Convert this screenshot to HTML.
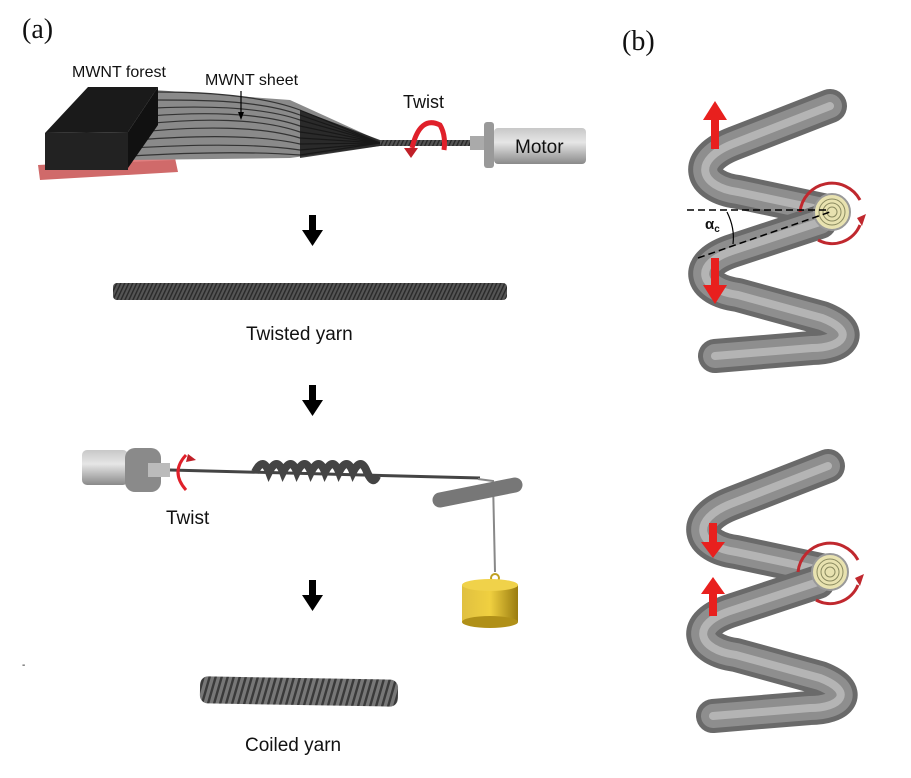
<!DOCTYPE html>
<html><head><meta charset="utf-8"><style>
html,body{margin:0;padding:0;background:#fff;}
svg{display:block;}
text{font-family:"Liberation Sans",sans-serif;fill:#111;}
</style></head><body>
<svg width="911" height="778" viewBox="0 0 911 778" xmlns="http://www.w3.org/2000/svg">
<defs>
<linearGradient id="cyl" x1="0" y1="0" x2="0" y2="1">
<stop offset="0" stop-color="#c8c8c8"/><stop offset="0.4" stop-color="#e6e6e6"/><stop offset="1" stop-color="#8a8a8a"/></linearGradient>
<linearGradient id="gold" x1="0" y1="0" x2="1" y2="0">
<stop offset="0" stop-color="#e0c040"/><stop offset="0.5" stop-color="#f0d040"/><stop offset="1" stop-color="#9a7c10"/></linearGradient>
<pattern id="tw" width="4" height="20" patternUnits="userSpaceOnUse" patternTransform="skewX(-25)">
<rect width="4" height="20" fill="#555"/><rect width="1.6" height="20" fill="#2a2a2a"/></pattern>
<pattern id="cw" width="6" height="30" patternUnits="userSpaceOnUse" patternTransform="skewX(-15)">
<rect width="6" height="30" fill="#777"/><rect width="2.5" height="30" fill="#3a3a3a"/></pattern>
<g id="spring">
<g fill="none" stroke-linecap="round" stroke-linejoin="round">
<path d="M830 106 L735 143 C690 160 700 187 738 192 L832 212" stroke="#6a6a6a" stroke-width="34"/>
<path d="M830 106 L735 143 C690 160 700 187 738 192 L832 212" stroke="#8e8e8e" stroke-width="24"/>
<path d="M830 106 L735 143 C690 160 700 187 738 192 L832 212" stroke="#b4b4b4" stroke-width="8"/>
<path d="M820 222 L735 250 C690 264 700 290 738 295 L822 318 C858 332 842 348 812 348 L715 356" stroke="#6a6a6a" stroke-width="34"/>
<path d="M820 222 L735 250 C690 264 700 290 738 295 L822 318 C858 332 842 348 812 348 L715 356" stroke="#8e8e8e" stroke-width="24"/>
<path d="M820 222 L735 250 C690 264 700 290 738 295 L822 318 C858 332 842 348 812 348 L715 356" stroke="#b4b4b4" stroke-width="8"/>
</g>
<circle cx="832" cy="212" r="18" fill="#e8e2b0" stroke="#999" stroke-width="2"/>
<circle cx="832" cy="212" r="13" fill="none" stroke="#8a8a60" stroke-width="1"/>
<circle cx="832" cy="212" r="9" fill="none" stroke="#8a8a60" stroke-width="1"/>
<circle cx="832" cy="212" r="5" fill="none" stroke="#8a8a60" stroke-width="1"/>
<path d="M800 212 A32 32 0 0 1 860 200" fill="none" stroke="#c0282e" stroke-width="3"/>
<path d="M860 225 A30 30 0 0 1 818 240" fill="none" stroke="#c0282e" stroke-width="3"/>
<polygon points="857,218 866,214 862,226" fill="#c0282e"/>
</g>
</defs>

<text x="22" y="38" style="font-family:'Liberation Serif',serif;font-size:28px">(a)</text>
<text x="622" y="50" style="font-family:'Liberation Serif',serif;font-size:28px">(b)</text>

<!-- forest -->
<polygon points="38,165 175,158 178,172 40,180" fill="#d06a6a"/>
<polygon points="130,155 178,155 175,160 130,162" fill="#e08080"/>
<!-- sheet -->
<polygon points="155,90 290,100 380,141 380,146 290,158 130,160" fill="#8a8a8a"/>
<g stroke="#333" stroke-width="1.2" fill="none">
<path d="M158 92 C200 92 260 95 300 110 L380 143"/><path d="M158 100 C200 100 260 100 300 115 L380 143"/>
<path d="M155 108 C200 106 260 106 300 120 L380 143"/><path d="M150 116 C200 112 260 112 300 126 L380 143"/>
<path d="M145 124 C200 118 260 118 300 132 L380 143"/><path d="M140 132 C200 126 260 126 300 138 L380 143"/>
<path d="M135 140 C200 135 260 135 300 144 L380 143"/><path d="M132 148 C200 144 260 144 300 150 L380 143"/>
<path d="M130 156 C200 152 260 152 300 155 L380 143"/>
</g>
<polygon points="300,110 380,140 380,146 300,158" fill="#111" opacity="0.8"/>
<polygon points="88,87 158,87 128,132 45,133" fill="#1a1a1a"/>
<polygon points="45,133 128,132 128,170 45,170" fill="#222"/>
<polygon points="128,132 158,87 158,125 128,168" fill="#111"/>
<text x="72" y="77" style="font-size:16px">MWNT forest</text>
<text x="205" y="85" style="font-size:16px">MWNT sheet</text>
<line x1="241" y1="91" x2="241" y2="115" stroke="#000" stroke-width="1.2"/>
<polygon points="238,112 244,112 241,120" fill="#000"/>
<rect x="380" y="140" width="92" height="6" fill="url(#tw)"/>
<rect x="470" y="136" width="16" height="14" fill="#aaa"/>
<rect x="484" y="122" width="10" height="46" rx="3" fill="#999"/>
<rect x="494" y="128" width="92" height="36" rx="4" fill="url(#cyl)"/>
<text x="515" y="153" style="font-size:19px">Motor</text>
<text x="403" y="108" style="font-size:18px">Twist</text>
<path d="M412 148 Q420 115 440 125 Q446 135 444 150" fill="none" stroke="#e0202a" stroke-width="5"/>
<polygon points="404,148 418,148 411,158" fill="#c02028"/>

<!-- arrows -->
<g fill="#000">
<rect x="309" y="215" width="7" height="16"/><polygon points="302,230 323,230 312.5,246"/>
<rect x="309" y="385" width="7" height="16"/><polygon points="302,400 323,400 312.5,416"/>
<rect x="309" y="580" width="7" height="16"/><polygon points="302,595 323,595 312.5,611"/>
</g>

<rect x="113" y="283" width="394" height="17" rx="4" fill="url(#tw)"/>
<text x="246" y="340" style="font-size:19px">Twisted yarn</text>

<!-- middle -->
<rect x="82" y="450" width="46" height="35" rx="5" fill="url(#cyl)"/>
<rect x="125" y="448" width="36" height="44" rx="10" fill="#8a8a8a"/>
<rect x="148" y="463" width="22" height="14" fill="#bbb"/>
<line x1="170" y1="470" x2="480" y2="478" stroke="#444" stroke-width="3"/>
<path d="M255 472 q8 -16 14 0 q8 -16 14 0 q8 -16 14 0 q8 -16 14 0 q8 -16 14 0 q8 -16 14 0 q8 -16 14 0 q8 -16 14 0 q6 14 10 4" fill="none" stroke="#444" stroke-width="8"/>
<path d="M478 479 L493 481 L495 572" fill="none" stroke="#888" stroke-width="2"/>
<line x1="440" y1="500" x2="515" y2="485" stroke="#777" stroke-width="15" stroke-linecap="round"/>
<circle cx="495" cy="578" r="4" fill="none" stroke="#c0a020" stroke-width="2"/>
<rect x="462" y="585" width="56" height="37" fill="url(#gold)"/>
<ellipse cx="490" cy="585" rx="28" ry="6" fill="#f0d24a"/>
<ellipse cx="490" cy="622" rx="28" ry="6" fill="#b09018"/>
<path d="M186 455 Q170 472 186 490" fill="none" stroke="#e0202a" stroke-width="3"/>
<polygon points="188,454 196,460 186,462" fill="#c02028"/>
<text x="166" y="524" style="font-size:19px">Twist</text>

<text x="22" y="668" style="font-size:10px">-</text>
<rect x="200" y="678" width="198" height="27" rx="8" fill="url(#cw)" transform="rotate(1 300 690)"/>
<text x="245" y="751" style="font-size:19px">Coiled yarn</text>

<!-- springs -->
<use href="#spring"/>
<use href="#spring" transform="translate(-2 360)"/>
<line x1="687" y1="210" x2="830" y2="210" stroke="#000" stroke-width="1.5" stroke-dasharray="7 4"/>
<line x1="698" y1="258" x2="830" y2="212" stroke="#000" stroke-width="1.5" stroke-dasharray="7 4"/>
<path d="M727 212 Q735 228 733 244" fill="none" stroke="#000" stroke-width="1.2"/>
<text x="705" y="229" style="font-size:15px;font-weight:bold">α<tspan style="font-size:10px" dy="3">c</tspan></text>
<g fill="#e8201e">
<rect x="711" y="117" width="8" height="32"/><polygon points="703,120 727,120 715,101"/>
<rect x="711" y="258" width="8" height="30"/><polygon points="703,285 727,285 715,304"/>
<rect x="709" y="523" width="8" height="22"/><polygon points="701,542 725,542 713,558"/>
<rect x="709" y="592" width="8" height="24"/><polygon points="701,594 725,594 713,577"/>
</g>
</svg>
</body></html>
